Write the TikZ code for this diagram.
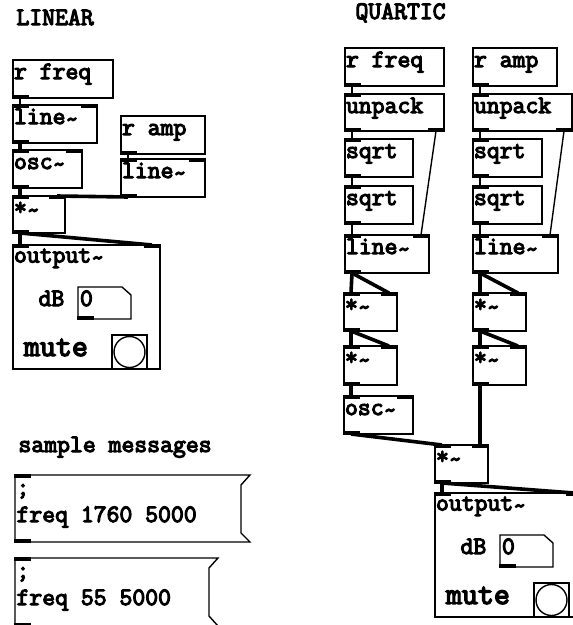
\documentclass[tikz,border=0pt]{standalone}
\usepackage{fontspec}
\newfontfamily\pdfont[FakeBold=4.5]{Latin Modern Mono}
\newcommand\tl{\raisebox{-3pt}{\char"7E}}
\begin{document}
\begin{tikzpicture}[x=1pt,y=-1pt,
  box/.style={draw, line width=1.4pt, rectangle, inner sep=0, outer sep=0, anchor=north west},
  inv/.style={rectangle, inner sep=0, outer sep=0, anchor=north west},
  txt/.style={inner sep=0, outer sep=0, anchor=base west, font=\pdfont\fontsize{25}{25}\selectfont},
  big/.style={txt, font=\pdfont\fontsize{31}{31}\selectfont},
  sigw/.style={line width=3.6pt},
  ctlw/.style={line width=1.4pt}]
\useasboundingbox (0,0) rectangle (573,625);
\fill[white] (0,0) rectangle (573,625);
\clip (0,0) rectangle (573,625);
\newcommand\pdobj[6]{%
  \node[box, minimum width=#4-#2, minimum height=#5-#3] (#1) at (#2,#3) {};
  \node[txt] at ([shift={(1,19)}]#1.north west) {#6};}
\newcommand\iL[1]{\fill ([shift={(-0.7,-0.7)}]#1.north west) rectangle ([shift={(16,3)}]#1.north west);}
\newcommand\iR[1]{\fill ([shift={(-16,-0.7)}]#1.north east) rectangle ([shift={(0.7,3)}]#1.north east);}
\newcommand\oL[1]{\fill ([shift={(-0.7,-3)}]#1.south west) rectangle ([shift={(16,0.7)}]#1.south west);}
\newcommand\oR[1]{\fill ([shift={(-16,-3)}]#1.south east) rectangle ([shift={(0.7,0.7)}]#1.south east);}
\newcommand\cLL[3]{\draw[#1] ([shift={(7,0)}]#2.south west) -- ([shift={(7,0)}]#3.north west);}
\newcommand\cLR[3]{\draw[#1] ([shift={(7,0)}]#2.south west) -- ([shift={(-8,0)}]#3.north east);}
\newcommand\cRR[3]{\draw[#1] ([shift={(-8,0)}]#2.south east) -- ([shift={(-8,0)}]#3.north east);}
\newcommand\pdout[3]{%
  \node[box, minimum width=147, minimum height=124] (#1) at (#2,#3) {};
  \iL{#1}\iR{#1}
  \node[txt] at ([shift={(1,17.5)}]#1.north west) {output\tl};
  \node[txt] at ([shift={(25.5,61)}]#1.north west) {dB};
  \node[inv, minimum width=53, minimum height=32] (#1nb) at ([shift={(65,42)}]#1.north west) {};
  \draw[line width=1.4pt] (#1nb.north west) -- ([xshift=-9pt]#1nb.north east) -- ([yshift=-8pt]#1nb.north east) -- (#1nb.south east) -- (#1nb.south west) -- cycle;
  \oL{#1nb}
  \node[txt] at ([shift={(2,19)}]#1nb.north west) {0};
  \node[big] at ([shift={(11,111)}]#1.north west) {mute};
  \node[box, line width=2pt, minimum width=35, minimum height=34] (#1tg) at ([shift={(99,90)}]#1.north west) {};
  \draw[line width=1.4pt] (#1tg.center) circle (15.5pt);}

% ---------------- LINEAR ----------------
\node[txt] (tLin) at (16.5,25) {LINEAR};
\pdobj{rfreqL}{13}{60}{113}{98}{r freq}\oL{rfreqL}
\pdobj{lineL}{13}{105}{97}{143}{line\tl}\iL{lineL}\iR{lineL}\oL{lineL}
\pdobj{oscL}{13}{150}{82}{188}{osc\tl}\iL{oscL}\iR{oscL}\oL{oscL}
\pdobj{mulL}{13}{196}{65}{233}{*\tl}\iL{mulL}\iR{mulL}\oL{mulL}
\pdobj{rampL}{121}{116}{205}{154}{r amp}\oL{rampL}
\pdobj{lineAL}{121}{159}{205}{197}{line\tl}\iL{lineAL}\iR{lineAL}\oL{lineAL}
\pdout{outL}{13}{245}
\cLL{ctlw}{rfreqL}{lineL}
\cLL{sigw}{lineL}{oscL}
\cLL{sigw}{oscL}{mulL}
\cLL{ctlw}{rampL}{lineAL}
\cLR{sigw}{lineAL}{mulL}
\cLL{sigw}{mulL}{outL}
\cLR{sigw}{mulL}{outL}

% ---------------- messages ----------------
\node[txt] (tSm) at (18.5,452) {sample messages};
\node[inv, minimum width=226, minimum height=67] (msgA) at (15,475) {};
\draw[line width=1.4pt] (msgA.north west) -- ([xshift=9pt]msgA.north east) -- ([yshift=-10pt]msgA.north east) -- ([yshift=9pt]msgA.south east) -- ([xshift=9pt]msgA.south east) -- (msgA.south west) -- cycle;
\iL{msgA}\oL{msgA}
\node[txt] at ([shift={(1.5,20)}]msgA.north west) {;};
\node[txt] at ([shift={(1.5,47)}]msgA.north west) {freq 1760 5000};
\node[inv, minimum width=194, minimum height=68] (msgB) at (15,558) {};
\draw[line width=1.4pt] (msgB.north west) -- ([xshift=9pt]msgB.north east) -- ([yshift=-10pt]msgB.north east) -- ([yshift=10pt]msgB.south east) -- ([xshift=9pt]msgB.south east) -- (msgB.south west) -- cycle;
\iL{msgB}\oL{msgB}
\node[txt] at ([shift={(1.5,20)}]msgB.north west) {;};
\node[txt] at ([shift={(1.5,47)}]msgB.north west) {freq 55 5000};

% ---------------- QUARTIC ----------------
\node[txt] (tQu) at (355.5,19) {QUARTIC};
\pdobj{rfreqQ}{345}{48}{444}{86}{r freq}\oL{rfreqQ}
\pdobj{unpF}{345}{94}{444}{131}{unpack}\iL{unpF}\oL{unpF}\oR{unpF}
\pdobj{sqF1}{345}{139}{413}{177}{sqrt}\iL{sqF1}\oL{sqF1}
\pdobj{sqF2}{345}{186}{413}{224}{sqrt}\iL{sqF2}\oL{sqF2}
\pdobj{lineF}{345}{235}{429}{273}{line\tl}\iL{lineF}\iR{lineF}\oL{lineF}
\pdobj{mulF1}{344}{293}{397}{331}{*\tl}\iL{mulF1}\iR{mulF1}\oL{mulF1}
\pdobj{mulF2}{344}{346}{397}{385}{*\tl}\iL{mulF2}\iR{mulF2}\oL{mulF2}
\pdobj{oscQ}{344}{396}{413}{434}{osc\tl}\iL{oscQ}\iR{oscQ}\oL{oscQ}
\pdobj{rampQ}{473}{48}{557}{86}{r amp}\oL{rampQ}
\pdobj{unpA}{473}{94}{572}{131}{unpack}\iL{unpA}\oL{unpA}\oR{unpA}
\pdobj{sqA1}{473}{139}{542}{177}{sqrt}\iL{sqA1}\oL{sqA1}
\pdobj{sqA2}{473}{186}{542}{224}{sqrt}\iL{sqA2}\oL{sqA2}
\pdobj{lineA}{473}{235}{558}{273}{line\tl}\iL{lineA}\iR{lineA}\oL{lineA}
\pdobj{mulA1}{473}{293}{526}{331}{*\tl}\iL{mulA1}\iR{mulA1}\oL{mulA1}
\pdobj{mulA2}{473}{346}{526}{385}{*\tl}\iL{mulA2}\iR{mulA2}\oL{mulA2}
\pdobj{mulQ}{435}{445}{488}{483}{*\tl}\iL{mulQ}\iR{mulQ}\oL{mulQ}
\pdout{outQ}{435}{493}
% freq chain
\cLL{ctlw}{rfreqQ}{unpF}
\cLL{ctlw}{unpF}{sqF1}
\cLL{ctlw}{sqF1}{sqF2}
\cLL{ctlw}{sqF2}{lineF}
\cRR{ctlw}{unpF}{lineF}
\cLL{sigw}{lineF}{mulF1}
\cLR{sigw}{lineF}{mulF1}
\cLL{sigw}{mulF1}{mulF2}
\cLR{sigw}{mulF1}{mulF2}
\cLL{sigw}{mulF2}{oscQ}
% amp chain
\cLL{ctlw}{rampQ}{unpA}
\cLL{ctlw}{unpA}{sqA1}
\cLL{ctlw}{sqA1}{sqA2}
\cLL{ctlw}{sqA2}{lineA}
\cRR{ctlw}{unpA}{lineA}
\cLL{sigw}{lineA}{mulA1}
\cLR{sigw}{lineA}{mulA1}
\cLL{sigw}{mulA1}{mulA2}
\cLR{sigw}{mulA1}{mulA2}
% mix and output
\cLL{sigw}{oscQ}{mulQ}
\cLR{sigw}{mulA2}{mulQ}
\cLL{sigw}{mulQ}{outQ}
\cLR{sigw}{mulQ}{outQ}
\end{tikzpicture}
\end{document}
